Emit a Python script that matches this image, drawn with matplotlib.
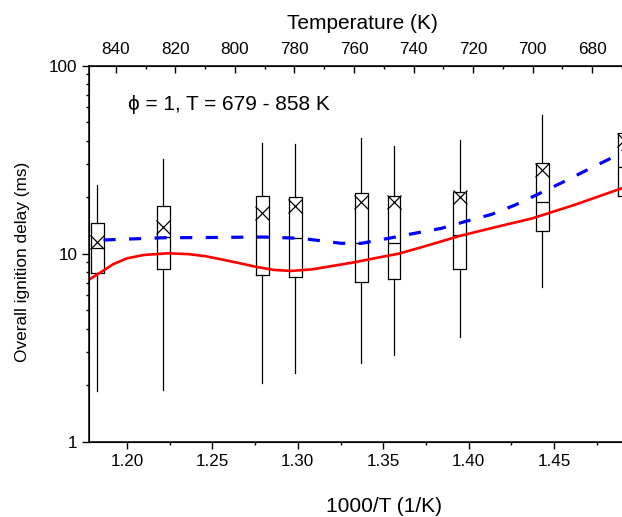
#!/usr/bin/env python3
"""
Overall ignition delay vs inverse temperature.
Box plots of the measured delays plus two model curves (solid red, dashed blue).
"""

import matplotlib
matplotlib.use('Agg')
import matplotlib.pyplot as plt
import numpy as np

plt.rcParams['font.family'] = ['Liberation Sans', 'DejaVu Sans']

# Box plot data (1000/T positions and stats in ms)
box_x = [1.1827, 1.2212, 1.2793, 1.2985, 1.3371, 1.3563, 1.3948, 1.4430, 1.4910]
box_whislo = [1.85, 1.88, 2.05, 2.31, 2.61, 2.89, 3.62, 6.62, 11.2]
box_q1 = [7.9, 8.3, 7.7, 7.5, 7.1, 7.3, 8.3, 13.2, 20.3]
box_med = [10.7, 12.2, 12.3, 12.1, 11.4, 11.4, 12.5, 18.8, 29.0]
box_q3 = [14.6, 17.9, 20.2, 20.0, 21.0, 20.4, 21.4, 30.3, 44.0]
box_whishi = [23.1, 31.9, 38.9, 38.3, 41.1, 37.4, 40.2, 54.7, 78.9]
box_mean = [11.6, 13.9, 16.5, 17.9, 18.9, 18.9, 20.1, 27.8, 40.3]

# Red solid curve
red_x = [1.178, 1.185, 1.192, 1.200, 1.210, 1.224, 1.236, 1.246, 1.256, 1.266,
         1.276, 1.286, 1.296, 1.308, 1.320, 1.333, 1.346, 1.359, 1.375, 1.395,
         1.415, 1.437, 1.462, 1.4897]
red_y = [7.3, 8.0, 8.8, 9.45, 9.85, 10.05, 9.95, 9.7, 9.3, 8.9,
         8.5, 8.2, 8.1, 8.25, 8.6, 9.0, 9.5, 10.0, 11.0, 12.45,
         13.8, 15.4, 18.2, 22.3]

# Blue dashed curve
blue_x = [1.1863, 1.2213, 1.2500, 1.2795, 1.3018, 1.3253, 1.3371, 1.3557, 1.3684,
          1.3841, 1.3976, 1.4135, 1.4272, 1.4409, 1.4546, 1.4683, 1.4820, 1.4910]
blue_y = [11.83, 12.16, 12.2, 12.27, 12.08, 11.36, 11.36, 12.2, 12.84,
          13.65, 14.8, 16.2, 18.16, 20.8, 23.9, 27.6, 31.8, 35.6]

# Axis ranges / ticks
x_min, x_max = 1.178, 1.4897
x_ticks = [1.20, 1.25, 1.30, 1.35, 1.40, 1.45]
t_ticks = [840, 820, 800, 780, 760, 740, 720, 700, 680]


def main():
    fig = plt.figure(figsize=(6.22, 5.17), dpi=100)
    fig.patch.set_facecolor('white')
    ax = fig.add_axes([0.1436, 0.1456, 0.8564, 0.7273])

    # Box plots
    stats = []
    for i in range(len(box_x)):
        stats.append(dict(med=box_med[i], q1=box_q1[i], q3=box_q3[i],
                          whislo=box_whislo[i], whishi=box_whishi[i],
                          mean=box_mean[i], fliers=[]))
    ax.bxp(stats, positions=box_x, widths=0.0075, showcaps=False,
           showmeans=True, manage_ticks=False,
           boxprops=dict(color='black', linewidth=0.9),
           whiskerprops=dict(color='black', linewidth=0.9),
           medianprops=dict(color='black', linewidth=0.9),
           meanprops=dict(marker='x', markersize=9.5, markeredgecolor='black',
                          markeredgewidth=0.9))

    # Model curves
    ax.plot(red_x, red_y, color='red', linewidth=1.9, zorder=4)
    ax.plot(blue_x, blue_y, color='blue', linewidth=2.3, dashes=(3.8, 4.2), zorder=4)

    ax.set_yscale('log')
    ax.set_ylim(1, 100)
    ax.set_xlim(x_min, x_max)
    ax.set_xticks(x_ticks)
    ax.set_xticklabels([f'{v:.2f}' for v in x_ticks])
    ax.set_xticks([v + 0.025 for v in x_ticks], minor=True)
    ax.set_yticks([1, 10, 100])
    ax.set_yticklabels(['1', '10', '100'])

    ax.tick_params(axis='both', which='major', direction='out', labelsize=12.3,
                   length=5, width=1)
    ax.tick_params(axis='both', which='minor', direction='out', length=2.5, width=1)
    ax.tick_params(axis='y', which='minor', labelleft=False)
    ax.tick_params(axis='x', which='major', pad=3.5)

    for side in ['left', 'bottom', 'top']:
        ax.spines[side].set_linewidth(1.1)
    ax.spines['right'].set_visible(False)

    ax.set_xlabel('1000/T (1/K)', fontsize=15)
    ax.xaxis.set_label_coords(0.553, -0.148)
    ax.set_ylabel('Overall ignition delay (ms)', fontsize=12.4)
    ax.yaxis.set_label_coords(-0.111, 0.478)

    # Top temperature axis (linear between the end points)
    ax2 = ax.twiny()
    ax2.set_xlim(1000 / x_min, 1000 / x_max)
    ax2.set_xticks(t_ticks)
    ax2.set_xticks([t - 10 for t in t_ticks], minor=True)
    ax2.tick_params(axis='x', which='major', direction='in', labelsize=12.3,
                    length=5, width=1, pad=6)
    ax2.tick_params(axis='x', which='minor', direction='in', length=2.5, width=1)
    ax2.spines['right'].set_visible(False)
    ax2.set_xlabel('Temperature (K)', fontsize=15)
    ax2.xaxis.set_label_coords(0.512, 1.098)

    ax.text(0.073, 0.898, 'ϕ = 1, T = 679 - 858 K', transform=ax.transAxes,
            fontsize=15, ha='left', va='center')

    fig.savefig('out.png', dpi=100, facecolor='white')
    plt.close(fig)


if __name__ == "__main__":
    main()
